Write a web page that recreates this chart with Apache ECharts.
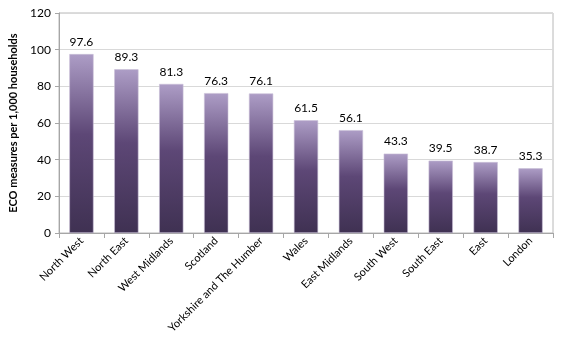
<!DOCTYPE html>
<html>
<head>
<meta charset="utf-8">
<script src="https://cdn.jsdelivr.net/npm/echarts@6/dist/echarts.min.js"></script>
<style>
html,body{margin:0;padding:0;background:#fff;}
#chart{width:564px;height:350px;}
</style>
</head>
<body>
<div id="chart"></div>
<script>
// ECO measures delivered per 1,000 households, by region
const regions = ['North West', 'North East', 'West Midlands', 'Scotland', 'Yorkshire and The Humber',
  'Wales', 'East Midlands', 'South West', 'South East', 'East', 'London'];
const measuresPer1000 = [97.6, 89.3, 81.3, 76.3, 76.1, 61.5, 56.1, 43.3, 39.5, 38.7, 35.3];
const yTicks = [0, 20, 40, 60, 80, 100, 120];

const FONT = 'Lato, "Open Sans", sans-serif';
const chart = echarts.init(document.getElementById('chart'));
chart.setOption({
  animation: false,
  grid: {
    left: 59, right: 11, top: 13, bottom: 117,
    show: true, borderColor: '#b8b8b8', borderWidth: 1
  },
  xAxis: {
    type: 'category',
    data: regions,
    axisLine: { lineStyle: { color: '#a6a6a6' } },
    axisTick: { show: true, alignWithLabel: false, length: 5, lineStyle: { color: '#a6a6a6' } },
    axisLabel: { rotate: 45, interval: 0, color: '#000', fontFamily: FONT, fontSize: 11, margin: 6 }
  },
  yAxis: {
    type: 'value',
    min: yTicks[0], max: yTicks[yTicks.length - 1], interval: 20,
    name: 'ECO measures per 1,000 households',
    nameLocation: 'middle', nameGap: 36,
    nameTextStyle: { fontFamily: FONT, fontSize: 11, fontWeight: 'bold', color: '#000' },
    axisLine: { show: true, lineStyle: { color: '#a6a6a6' } },
    axisTick: { show: true, length: 4, lineStyle: { color: '#a6a6a6' } },
    axisLabel: { color: '#000', fontFamily: FONT, fontSize: 12, margin: 8 },
    splitLine: { lineStyle: { color: '#d9d9d9' } }
  },
  series: [{
    type: 'bar',
    data: measuresPer1000,
    barWidth: '54%',
    itemStyle: {
      borderColor: '#c9c0d6', borderWidth: 0.6,
      color: new echarts.graphic.LinearGradient(0, 0, 0, 1, [
        { offset: 0, color: '#ad9dc6' },
        { offset: 0.45, color: '#5d4776' },
        { offset: 1, color: '#3f3152' }
      ])
    },
    label: {
      show: true, position: 'top', distance: 6,
      color: '#000', fontFamily: FONT, fontSize: 12,
      formatter: p => p.value.toFixed(1)
    }
  }]
});
</script>
</body>
</html>
